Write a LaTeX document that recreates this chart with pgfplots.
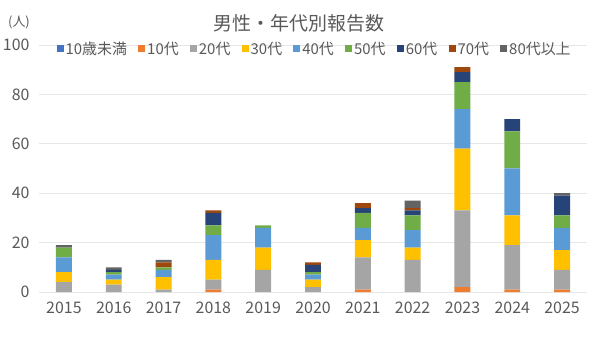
\documentclass[border=0pt]{standalone}
\usepackage{fontspec}
\setmainfont{Noto Sans CJK JP}
\usepackage{pgfplots}
\usepackage{pgfplotstable}
\pgfplotsset{compat=1.18}
\definecolor{txt}{HTML}{595959}
\definecolor{grd}{HTML}{E6E6E6}
\definecolor{cA}{HTML}{4472C4}
\definecolor{cB}{HTML}{ED7D31}
\definecolor{cC}{HTML}{A5A5A5}
\definecolor{cD}{HTML}{FFC000}
\definecolor{cE}{HTML}{5B9BD5}
\definecolor{cF}{HTML}{70AD47}
\definecolor{cG}{HTML}{264478}
\definecolor{cH}{HTML}{9E480E}
\definecolor{cI}{HTML}{636363}
\pgfplotstableread{
x a b c d e f g h i
0 0 0 4 4 6 4 0 0 1
1 0 0 3 2 2 1 1 0 1
2 0 0 1 5 3 1 0 2 1
3 0 1 4 8 10 4 5 1 0
4 0 0 9 9 8 1 0 0 0
5 0 0 2 3 2 1 3 1 0
6 0 1 13 7 5 6 2 2 0
7 0 0 13 5 7 6 2 1 3
8 0 2 31 25 16 11 4 2 0
9 0 1 18 12 19 15 5 0 0
10 0 1 8 8 9 5 8 0 1
}\data
\begin{document}
\begin{tikzpicture}
\path[use as bounding box] (-39bp,-53bp) rectangle (558bp,292bp);
\begin{axis}[
  at={(0,0)}, anchor=south west,
  scale only axis, width=548bp, height=247bp,
  ybar stacked, bar width=0.32,
  xmin=-0.5, xmax=10.5, ymin=0, ymax=100,
  xtick={0,...,10},
  xticklabels={2015,2016,2017,2018,2019,2020,2021,2022,2023,2024,2025},
  ytick={0,20,...,100},
  /pgf/number format/assume math mode=true,
  tick style={draw=none},
  axis line style={draw=none},
  ymajorgrids, grid style={grd, line width=0.8bp},
  tick label style={font=\fontsize{16}{18}\selectfont, text=txt},
  xticklabel style={yshift=-6.5bp},
  yticklabel style={xshift=-6bp},
  legend style={at={(0.503,0.985)}, anchor=center, draw=none, fill=none,
    font=\fontsize{15}{17}\selectfont, text=txt, legend columns=-1,
    /tikz/every even column/.append style={column sep=9.2bp},
    inner sep=0pt},
  legend image code/.code={\path[#1,draw=none] (0bp,-3.5bp) rectangle (7bp,3.5bp);},
  every axis plot/.append style={draw=none},
  clip=false,
]
\addplot[fill=cA] table[x=x,y=a]{\data};
\addplot[fill=cB] table[x=x,y=b]{\data};
\addplot[fill=cC] table[x=x,y=c]{\data};
\addplot[fill=cD] table[x=x,y=d]{\data};
\addplot[fill=cE] table[x=x,y=e]{\data};
\addplot[fill=cF] table[x=x,y=f]{\data};
\addplot[fill=cG] table[x=x,y=g]{\data};
\addplot[fill=cH] table[x=x,y=h]{\data};
\addplot[fill=cI] table[x=x,y=i]{\data};
\legend{10歳未満,10代,20代,30代,40代,50代,60代,70代,80代以上}
\draw[grd, line width=1bp] (axis cs:-0.5,0) -- (axis cs:10.5,0);
\end{axis}
\node[text=txt, font=\fontsize{19}{21}\selectfont] at (260bp,269bp) {男性・年代別報告数};
\node[text=txt, font=\fontsize{13}{15}\selectfont] at (-20bp,270bp) {(人)};
\end{tikzpicture}
\end{document}
